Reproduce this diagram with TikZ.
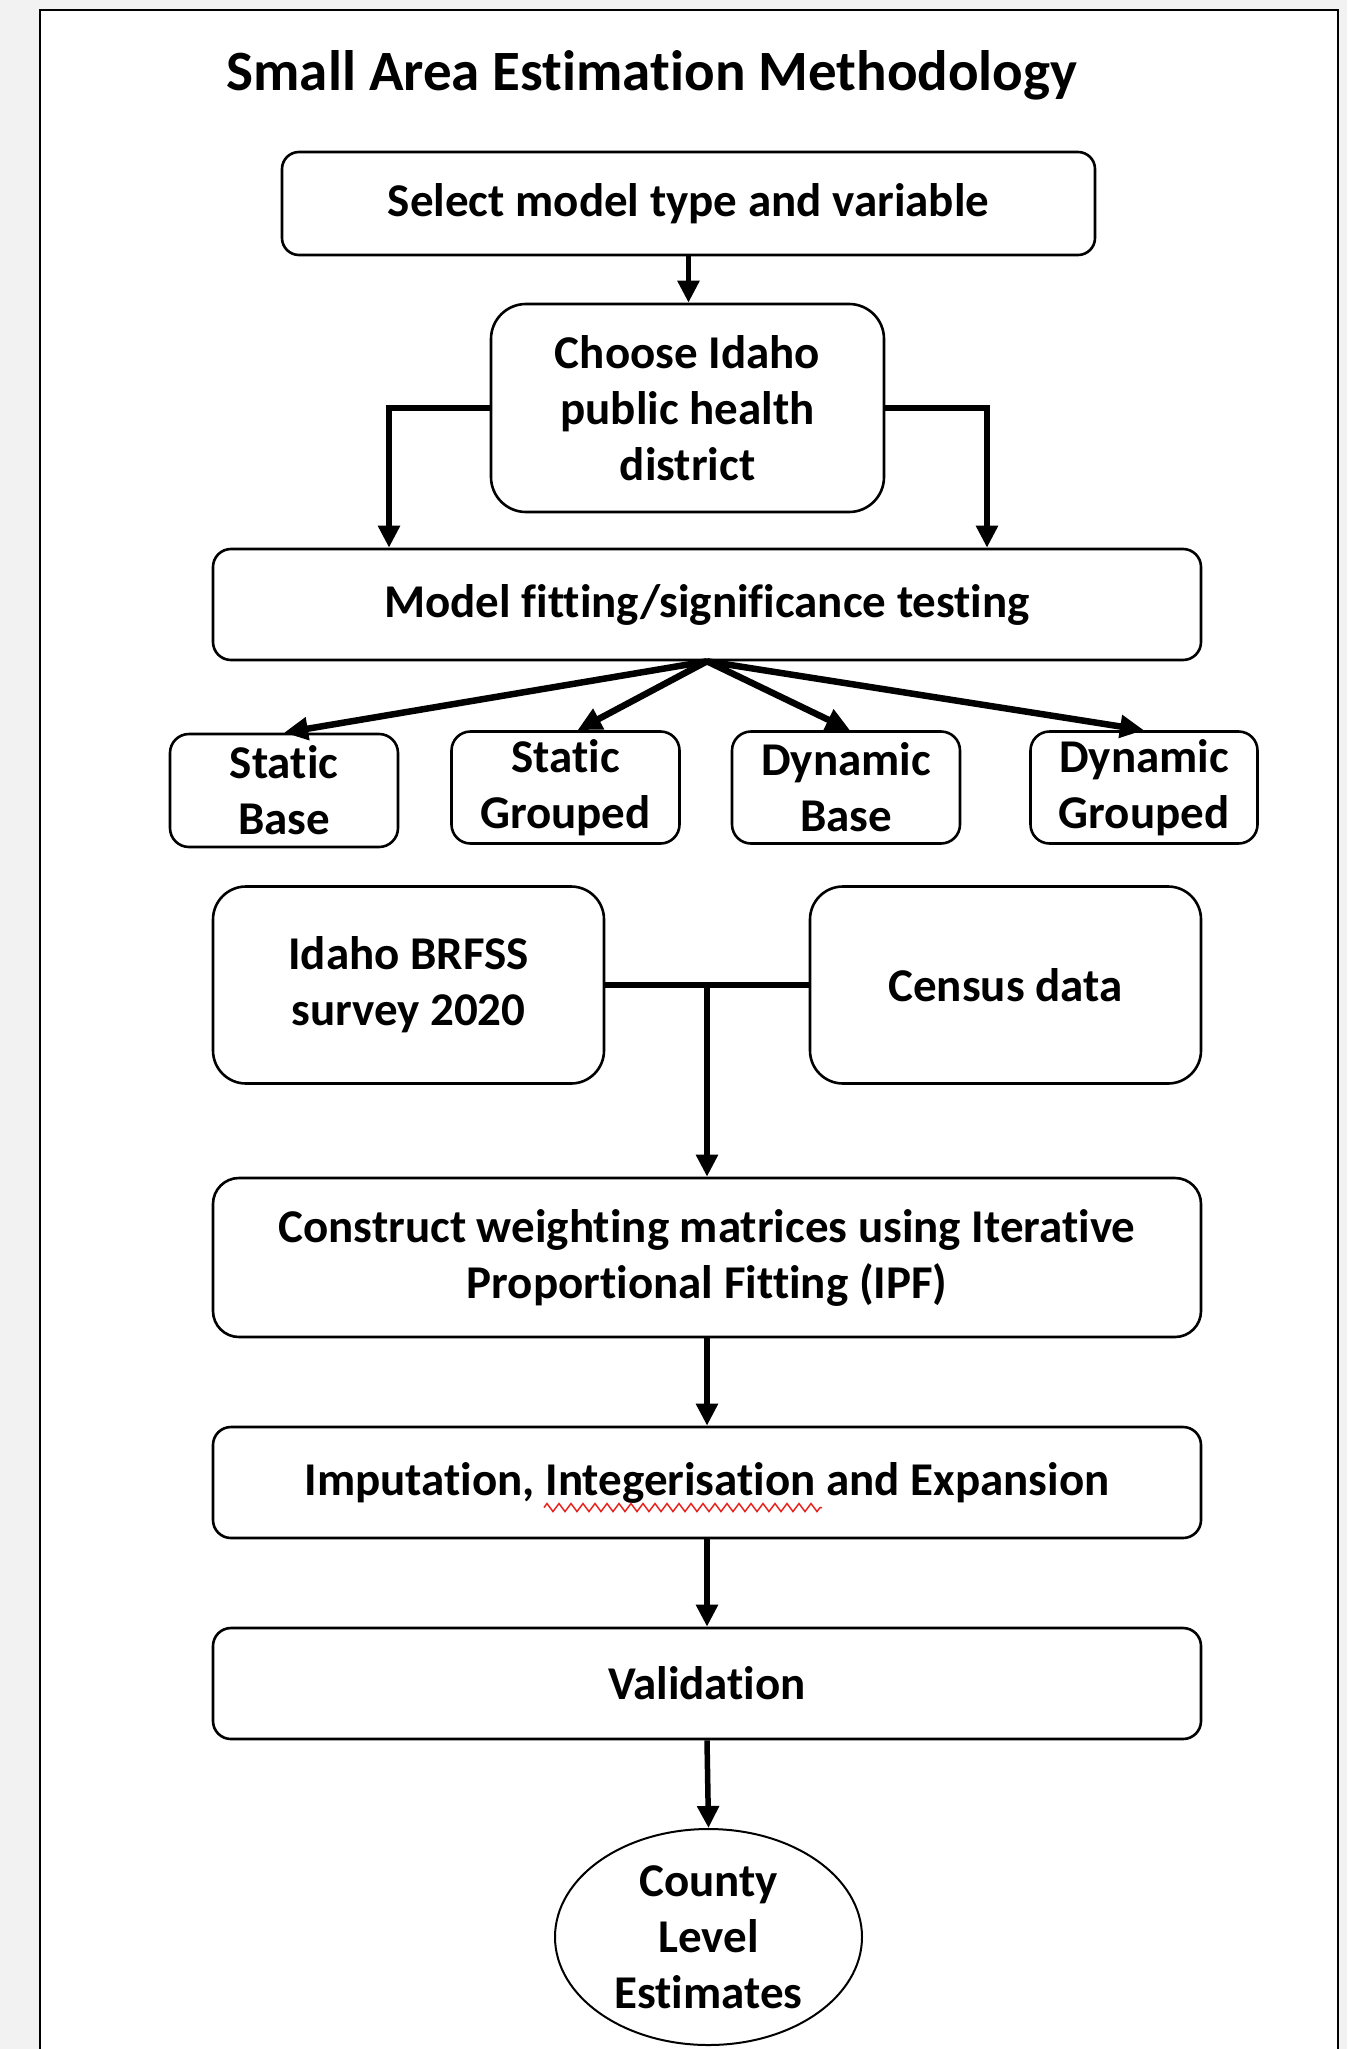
\documentclass[tikz,border=0pt]{standalone}
\usepackage{fontspec}
\setmainfont{Carlito}[Ligatures={NoCommon,NoContextual}, Contextuals={NoAlternate}, RawFeature={-liga;-clig;-dlig;-calt}]
\usetikzlibrary{arrows.meta,shapes.geometric,decorations.pathmorphing,calc}
\definecolor{pagegray}{HTML}{F2F2F2}
\definecolor{wavyred}{HTML}{E8231F}
\newcommand\mybxfont{\fontsize{47}{56}\selectfont\bfseries}
\newcommand\mytitlefont{\fontsize{57}{68}\selectfont\bfseries}
\tikzset{
  box/.style={draw, line width=2.6pt, rounded corners=#1, align=center, inner sep=0pt, font=\mybxfont, fill=white},
  arr/.style={line width=5.5pt, -{Triangle[length=22pt,width=21pt]}},
  fan/.style={line width=6.5pt, -{Triangle[length=24pt,width=22pt]}},
  link/.style={line width=6pt},
}
\begin{document}
\begin{tikzpicture}[x=1pt,y=-1pt]
\useasboundingbox (0,0) rectangle (1347,2049);
\fill[pagegray] (0,0) rectangle (1347,2049);
\fill[white] (40,10) rectangle (1338,2049);
\draw[line width=2pt] (40,2049) -- (40,10) -- (1338,10) -- (1338,2049);

\node[font=\mytitlefont] (title) at (652,75) {Small Area Estimation Methodology};

\node[box=17pt, minimum width=813pt, minimum height=103pt] (b1) at (688.5,203.5) {Select model type and variable};
\node[box=35pt, minimum width=393pt, minimum height=208pt] (b2) at (687.5,408) {Choose Idaho\\public health\\district};
\node[box=18pt, minimum width=988pt, minimum height=111pt] (b3) at (707,604.5) {Model fitting/significance testing};

\node[box=19pt, minimum width=228pt, minimum height=113pt] (sb) at (284,790.5) {Static\\Base};
\node[box=19pt, minimum width=228pt, minimum height=112pt] (sg) at (565.5,787.5) {Static\\Grouped};
\node[box=19pt, minimum width=228pt, minimum height=112pt] (db) at (846,787.5) {Dynamic\\Base};
\node[box=19pt, minimum width=227pt, minimum height=112pt] (dg) at (1144,787.5) {Dynamic\\Grouped};

\node[box=33pt, minimum width=391pt, minimum height=197pt] (brfss) at (408.5,985) {Idaho BRFSS\\survey 2020};
\node[box=33pt, minimum width=391pt, minimum height=197pt] (census) at (1005.5,985) {Census data};

\node[box=26pt, minimum width=988pt, minimum height=159pt] (con) at (707,1257.5) {Construct weighting matrices using Iterative\\Proportional Fitting (IPF)};
\node[box=18pt, minimum width=988pt, minimum height=111pt] (imp) at (707,1482.5) {Imputation, Integerisation and Expansion};
\node[box=18pt, minimum width=988pt, minimum height=111pt] (val) at (707,1683.5) {Validation};

\node[ellipse, draw, line width=2pt, minimum width=307pt, minimum height=216pt, inner sep=0pt, align=center, font=\mybxfont] (ell) at (708.5,1937) {County\\Level\\Estimates};

% red spell-check underline
\draw[wavyred, line width=1.5pt, decorate, decoration={zigzag, segment length=12pt, amplitude=4pt}]
  ($(imp.center)+(-163,25)$) -- ($(imp.center)+(115,25)$);

% connectors
\draw[arr] (b1.south) -- (b1.south |- b2.north);
\draw[arr] (b2.west) -| ([xshift=-318pt]b3.north);
\draw[arr] (b2.east) -| ([xshift=280pt]b3.north);

\draw[fan] (b3.south) -- (sb.north);
\draw[fan] (b3.south) -- ([xshift=12pt]sg.north);
\draw[fan] (b3.south) -- ([xshift=4pt]db.north);
\draw[fan] (b3.south) -- (dg.north);

\draw[link] (brfss.east) -- (census.west);
\draw[arr] (brfss.east -| con.north) -- (con.north);

\draw[arr] (con.south) -- (imp.north);
\draw[arr] (imp.south) -- (val.north);
\draw[arr] (val.south) -- (ell.north);
\end{tikzpicture}
\end{document}
